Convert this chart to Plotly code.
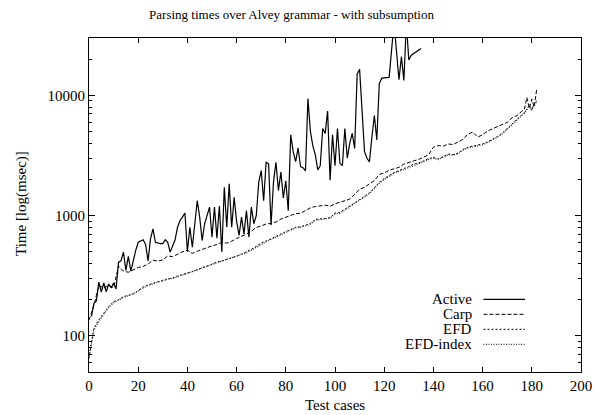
import plotly.graph_objects as go

title_text = "Parsing times over Alvey grammar - with subsumption"
x_label = "Test cases"
y_label = "Time [log(msec)]"
series_names = ["Active", "Carp", "EFD", "EFD-index"]

x_ticks = [0, 20, 40, 60, 80, 100, 120, 140, 160, 180, 200]
y_ticks = [100, 1000, 10000]
y_tick_text = ["100", "1000", "10000"]

active_x = [1, 2, 3, 4, 5, 6, 7, 8, 9, 10, 11, 12, 13, 14, 15, 16, 17, 18, 19, 20,
            21, 22, 23, 24, 25, 26, 27, 28, 29, 30, 31, 32, 33, 34, 35, 36, 37, 38, 39, 40,
            41, 42, 43, 44, 45, 46, 47, 48, 49, 50, 51, 52, 53, 54, 55, 56, 57, 58, 59, 60,
            61, 62, 63, 64, 65, 66, 67, 68, 69, 70, 71, 72, 73, 74, 75, 76, 77, 78, 79, 80,
            81, 82, 83, 84, 85, 86, 87, 88, 89, 90, 91, 92, 93, 94, 95, 96, 97, 98, 99, 100,
            101, 102, 103, 104, 105, 106, 107, 108, 109, 110, 111, 112, 113, 114, 115, 116,
            117, 118, 119, 122, 124, 126, 127, 128, 129, 130, 131, 133, 135]
active_y = [145, 186, 195, 280, 231, 275, 232, 270, 250, 275, 245, 410, 420, 497, 350, 458, 345, 430, 513, 600,
            620, 630, 575, 420, 640, 776, 600, 590, 585, 585, 630, 600, 497, 560, 630, 800, 910, 970, 1050, 500,
            800, 545, 900, 1330, 970, 620, 855, 1000, 1175, 660, 1175, 650, 1200, 497, 1720, 800, 1840, 800, 1420, 900,
            684, 970, 700, 1100, 660, 1175, 855, 1000, 1900, 2370, 1330, 2780, 2700, 830, 1900, 2780, 1615, 2300, 1400, 1950,
            1100, 4700, 3400, 2810, 3650, 2560, 2500, 2350, 9400, 5000, 3800, 3200, 2400, 2600, 5300, 4830, 7400, 1970, 4700, 2600,
            5300, 2720, 2600, 5300, 3000, 4000, 4830, 3620, 15000, 16500, 8000, 3400, 3000, 2800, 4500, 6800,
            4250, 12500, 13900, 14100, 40000, 13500, 21000, 13300, 40000, 19700, 21600, 23000, 24500]

carp_x = [0, 2, 4, 6, 8, 10, 12, 14, 16, 18, 20, 22, 24, 26, 28, 30, 32, 34, 36, 38,
          40, 42, 44, 46, 48, 50, 52, 54, 56, 58, 60, 62, 64, 66, 68, 70, 72, 74, 76, 78,
          80, 82, 84, 86, 88, 90, 92, 94, 96, 98, 100, 102, 104, 106, 108, 110, 112, 114, 116, 118,
          120, 122, 124, 126, 128, 130, 132, 134, 136, 138, 140, 142, 144, 146, 148, 150, 152, 154, 156, 158,
          160, 162, 164, 166, 168, 170, 172, 174, 176, 177, 178, 179, 180, 181, 182]
carp_y = [135, 180, 262, 250, 262, 252, 380, 345, 338, 355, 370, 378, 395, 425, 418, 428, 462, 455, 478, 500,
          515, 485, 505, 525, 540, 560, 575, 600, 590, 612, 645, 668, 700, 745, 795, 820, 852, 860, 885, 935,
          970, 1010, 1040, 1045, 1110, 1160, 1190, 1205, 1220, 1195, 1255, 1290, 1330, 1370, 1500, 1660, 1720, 1830, 1950, 2200,
          2260, 2380, 2440, 2520, 2680, 2780, 2850, 2930, 3050, 3200, 3700, 3820, 3780, 3940, 3900, 4100, 4300, 4750, 4950, 4500,
          4700, 5050, 5250, 5500, 5700, 5960, 6500, 6800, 7400, 7700, 9600, 7800, 9300, 8000, 11300]

efd_x = carp_x
efd_y = [65, 115, 136, 155, 175, 192, 200, 212, 218, 222, 238, 255, 265, 275, 282, 287, 294, 303, 314, 325,
         332, 342, 355, 365, 383, 398, 410, 420, 432, 445, 460, 478, 498, 525, 555, 590, 615, 640, 670, 705,
         735, 770, 800, 805, 830, 860, 930, 935, 945, 960, 1050, 1060, 1130, 1210, 1280, 1360, 1440, 1550, 1700, 1900,
         2030, 2150, 2280, 2370, 2450, 2560, 2680, 2740, 2850, 2980, 3050, 2960, 3100, 3250, 3220, 3300, 3550, 3700, 3780, 3850,
         3940, 4100, 4300, 4550, 4850, 5300, 5800, 6300, 6900, 7200, 7700, 8100, 7460, 8600, 9000]

efdi_x = carp_x
efdi_y = [68, 112, 132, 152, 172, 188, 198, 208, 216, 226, 235, 250, 262, 270, 279, 290, 298, 300, 310, 320,
          328, 338, 350, 362, 378, 392, 405, 416, 428, 440, 455, 472, 490, 515, 545, 580, 605, 632, 660, 695,
          725, 760, 790, 800, 822, 850, 915, 925, 940, 952, 1030, 1045, 1110, 1190, 1260, 1340, 1420, 1520, 1680, 1860,
          1990, 2110, 2240, 2330, 2420, 2520, 2640, 2700, 2800, 2930, 3000, 2920, 3060, 3200, 3180, 3260, 3500, 3640, 3720, 3800,
          3880, 4050, 4250, 4480, 4780, 5200, 5700, 6200, 6800, 7100, 7600, 8300, 7700, 8400, 8800]

EFDI_COLOR = "#333333"

fig = go.Figure()
fig.add_trace(go.Scatter(x=active_x, y=active_y, mode="lines", name=series_names[0],
                         line=dict(color="black", width=1.2)))
fig.add_trace(go.Scatter(x=carp_x, y=carp_y, mode="lines", name=series_names[1],
                         line=dict(color="black", width=1, dash="4px,2px")))
fig.add_trace(go.Scatter(x=efd_x, y=efd_y, mode="lines", name=series_names[2],
                         line=dict(color="black", width=1, dash="2px,2px")))
fig.add_trace(go.Scatter(x=efdi_x, y=efdi_y, mode="lines", name=series_names[3],
                         line=dict(color=EFDI_COLOR, width=1.2, dash="1px,1.5px")))

font_family = "Liberation Serif, Times New Roman, serif"

minor_vals = [v * m for v in (10, 100, 1000, 10000) for m in range(2, 10)]

# page has an 8px body margin: figure is 593x407 placed at (8, 8)
W, H = 593, 407
L, T = 81, 30
PW, PH = 492, 334

fig.update_layout(
    width=W, height=H,
    margin=dict(l=L, r=W - L - PW, t=T, b=H - T - PH, autoexpand=False),
    paper_bgcolor="white", plot_bgcolor="white",
    showlegend=False,
    font=dict(family=font_family, size=15, color="black"),
    title=dict(text=title_text, x=283.5 / W, xref="container", xanchor="center",
               y=1 - 6 / H, yref="container", yanchor="middle",
               font=dict(family=font_family, size=13, color="black")),
    xaxis=dict(range=[0, 200], tickvals=x_ticks, ticks="inside", ticklen=5,
               tickcolor="black", showline=True, linecolor="black", linewidth=1,
               mirror="allticks", showgrid=False, zeroline=False, automargin=False,
               tickfont=dict(size=15, color="black")),
    yaxis=dict(type="log", range=[1.69897, 4.4771], tickvals=y_ticks, ticktext=y_tick_text,
               ticks="inside", ticklen=6, tickcolor="black", showline=True, linecolor="black",
               linewidth=1, mirror="allticks", showgrid=False, zeroline=False, automargin=False,
               minor=dict(tickvals=minor_vals, ticks="inside", ticklen=3, tickcolor="black", showgrid=False),
               tickfont=dict(size=15, color="black")),
)

# positions below are page pixels (reference), converted to paper coords
def px_to_paper_x(px):
    return (px - 8 - L) / PW

def py_to_paper_y(py):
    return (T + PH - (py - 8)) / PH

label_font = dict(family=font_family, size=15, color="#000000")
fig.add_annotation(text=x_label, xref="paper", yref="paper", x=px_to_paper_x(335), y=py_to_paper_y(405),
                   showarrow=False, xanchor="center", yanchor="middle", font=label_font)
fig.add_annotation(text=y_label, xref="paper", yref="paper", x=px_to_paper_x(21), y=py_to_paper_y(204),
                   showarrow=False, textangle=-90, xanchor="center", yanchor="middle", font=label_font)

# gnuplot-style legend: text right-aligned, sample to the right
legend_rows = [(series_names[0], 299.3, "solid", "black", 1.2),
               (series_names[1], 314.3, "4px,2px", "black", 1),
               (series_names[2], 329.3, "2px,2px", "black", 1),
               (series_names[3], 344.3, "1px,1.5px", EFDI_COLOR, 1.2)]
for name, ypix, dash, col, w in legend_rows:
    yp = py_to_paper_y(ypix)
    fig.add_annotation(text=name, xref="paper", yref="paper", x=px_to_paper_x(474), y=yp,
                       showarrow=False, xanchor="right", yanchor="middle", font=label_font)
    fig.add_shape(type="line", xref="paper", yref="paper",
                  x0=px_to_paper_x(483.5), x1=px_to_paper_x(525), y0=yp, y1=yp,
                  line=dict(color=col, width=w, dash=dash))

fig.write_html("out.html")
